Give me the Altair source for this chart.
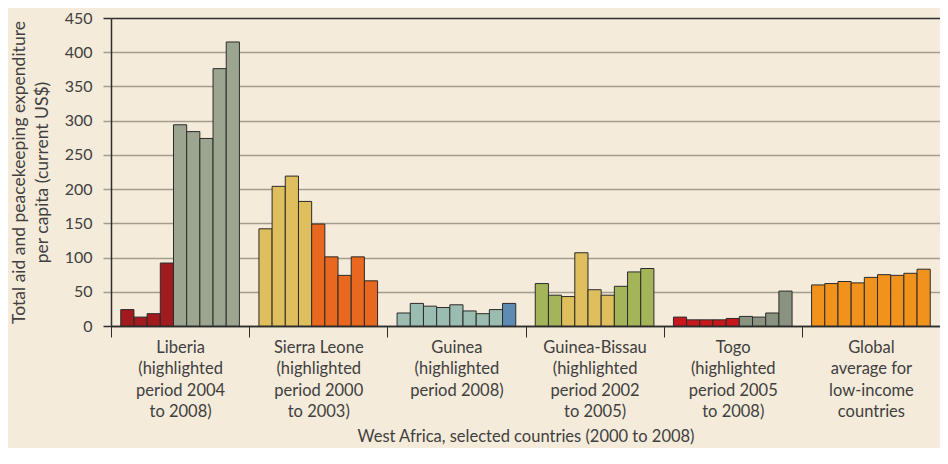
import altair as alt
import pandas as pd

years = [2000, 2001, 2002, 2003, 2004, 2005, 2006, 2007, 2008]

countries = ["Liberia", "Sierra Leone", "Guinea", "Guinea-Bissau", "Togo", "Global"]
group_labels = [
    "Liberia|(highlighted|period 2004|to 2008)",
    "Sierra Leone|(highlighted|period 2000|to 2003)",
    "Guinea|(highlighted|period 2008)",
    "Guinea-Bissau|(highlighted|period 2002|to 2005)",
    "Togo|(highlighted|period 2005|to 2008)",
    "Global|average for|low-income|countries",
]

liberia = [24, 13, 18, 92, 294, 284, 274, 376, 415]
sierra_leone = [142, 204, 219, 182, 149, 101, 74, 101, 66]
guinea = [19, 33, 29, 27, 31, 22, 18, 24, 33]
guinea_bissau = [62, 45, 43, 107, 53, 45, 58, 79, 84]
togo = [13, 9, 9, 9, 11, 14, 13, 19, 51]
global_avg = [60, 62, 65, 63, 71, 75, 74, 77, 83]

series = [liberia, sierra_leone, guinea, guinea_bissau, togo, global_avg]

# highlighted periods (start, end); None = no highlight
highlight = [(2004, 2008), (2000, 2003), (2008, 2008), (2002, 2005), (2005, 2008), None]

base_colors = ["#a01a1e", "#e9681f", "#9bbcb1", "#a3b459", "#c8171b", "#f0921b"]
hl_colors = ["#9ba590", "#dfbe5d", "#5d8bb2", "#dfbe5d", "#899380", "#f0921b"]

rows = []
for c, lab, vals, hl in zip(countries, group_labels, series, highlight):
    for y, v in zip(years, vals):
        is_hl = hl is not None and hl[0] <= y <= hl[1]
        rows.append({"group": lab, "year": y, "value": v,
                     "key": c + (" hl" if is_hl else " base")})
df = pd.DataFrame(rows)

keys = [c + " base" for c in countries] + [c + " hl" for c in countries]
key_colors = base_colors + hl_colors

grid_c = "#a39d90"
dark = "#2e2e2e"
text_c = "#404040"
font = "Lato"

chart = alt.Chart(df).mark_bar(stroke="#2b2b2b", strokeWidth=1).encode(
    x=alt.X("group:N", sort=group_labels,
            scale=alt.Scale(paddingInner=0, paddingOuter=0),
            axis=alt.Axis(title="West Africa, selected countries (2000 to 2008)",
                          labelAngle=0, tickBand="extent", tickSize=11,
                          tickColor=dark, domainColor=dark, domainWidth=1.5,
                          labelExpr="split(datum.label, '|')",
                          labelLineHeight=21.5, labelBaseline="top",
                          labelPadding=2, labelFontSize=16.5, labelColor=text_c,
                          labelFont=font, titleFont=font, titleFontSize=16.5,
                          titleFontWeight="normal", titleColor=text_c,
                          titlePadding=8)),
    xOffset=alt.XOffset("year:O", scale=alt.Scale(paddingInner=0, paddingOuter=0.74)),
    y=alt.Y("value:Q", scale=alt.Scale(domain=[0, 450], nice=False),
            axis=alt.Axis(values=list(range(0, 451, 50)),
                          title=["Total aid and peacekeeping expenditure",
                                 "per capita (current US$)"],
                          grid=True,
                          gridColor={"condition": {"test": "datum.value == 450 || datum.value == 0", "value": dark}, "value": grid_c},
                          gridWidth=1.5,
                          tickColor={"condition": {"test": "datum.value == 450 || datum.value == 0", "value": dark}, "value": grid_c},
                          tickWidth=1.5, tickSize=8,
                          domainColor=dark, domainWidth=1.5,
                          labelPadding=11, labelFontSize=16, labelColor=text_c,
                          labelFont=font, titleFont=font, titleFontSize=17.5,
                          titleFontWeight="normal", titleColor=text_c,
                          titleLineHeight=23, titlePadding=13)),
    color=alt.Color("key:N", scale=alt.Scale(domain=keys, range=key_colors), legend=None),
).properties(
    width=829, height=308,
    padding={"left": 103, "top": 10, "right": 0, "bottom": 122},
    autosize=alt.AutoSizeParams(type="none"),
    background="#f5ebda",
).configure_view(stroke=None)

chart.save("out.html", embed_options={"renderer": "svg", "actions": False})
